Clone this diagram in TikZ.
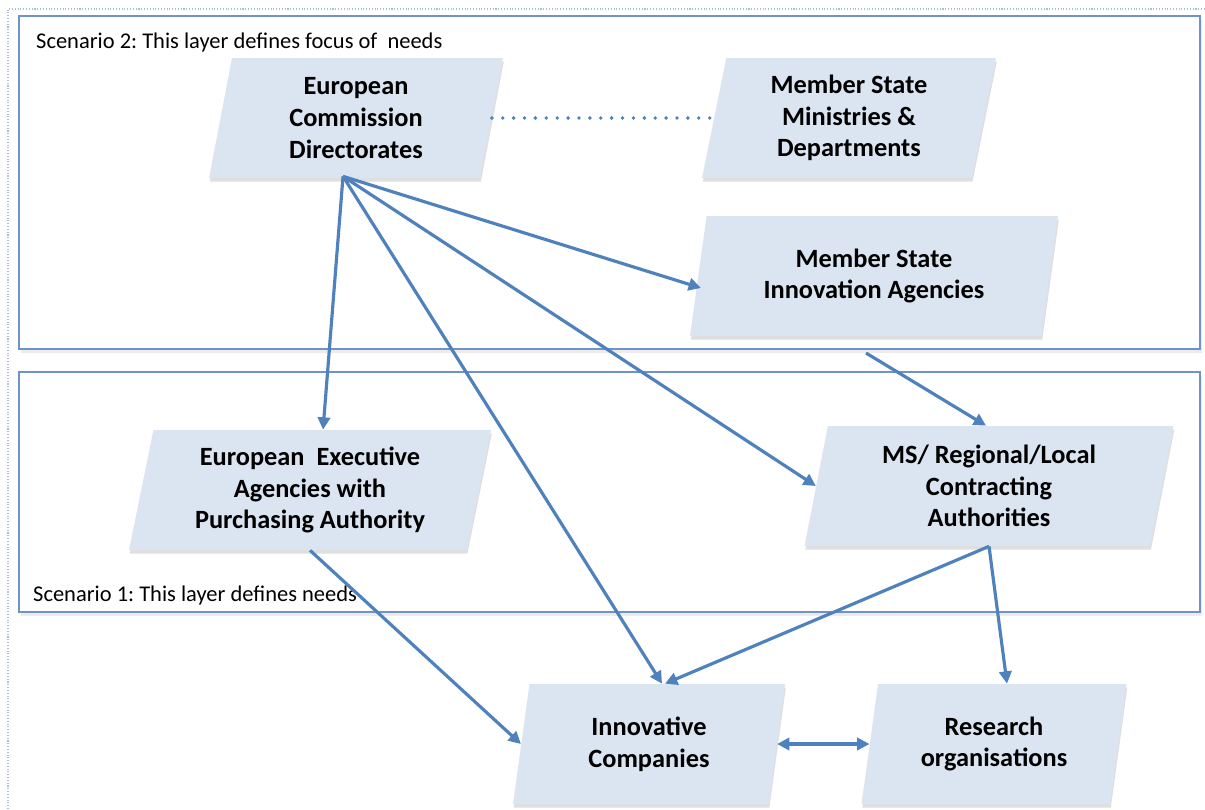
\documentclass[tikz,border=0pt]{standalone}
\usepackage{fontspec}
\setmainfont{Carlito}
\usepackage{tikz}
\usetikzlibrary{positioning, arrows, arrows.meta, shapes.geometric, shadows, calc}
\definecolor{boxfill}{HTML}{DBE5F1}
\definecolor{linkblue}{HTML}{4F81BD}
\definecolor{layerblue}{HTML}{6F93C7}
\frenchspacing

\begin{document}
\begin{tikzpicture}[x=0.02cm, y=-0.02cm,
  agency/.style={trapezium, trapezium left angle=76, trapezium right angle=104,
    trapezium stretches body, fill=boxfill, minimum height=2.4cm, align=center,
    font=\fontsize{15}{18}\selectfont\bfseries,
    drop shadow={shadow xshift=0.5pt, shadow yshift=-2pt, opacity=0.25}},
  link/.style={linkblue, line width=1.8pt, -{Triangle[length=7pt, width=7pt]}},
  layer/.style={layerblue, line width=1.5pt, fill=white,
    drop shadow={shadow xshift=1pt, shadow yshift=-2pt, opacity=0.15}},
  caption/.style={anchor=west, font=\fontsize{12.8}{15}\selectfont}]
\useasboundingbox (0,0) rectangle (1205,809);

% Page frame and the two layers
\draw[layerblue!60, densely dotted, line width=0.6pt] (8,809) -- (8,9) -- (1205,9);
\draw[layer] (19,16) rectangle (1200,349);
\draw[layer] (19,372) rectangle (1200,612);
\node[caption] (focus) at (30,42) {Scenario 2: This layer defines focus of~ needs};
\node[caption] (needs) at (27,595) {Scenario 1: This layer defines needs};

% Layer 2
\node[agency, minimum width=5.88cm] (ECD) at (356,118) {European\\Commission\\Directorates};
\node[agency, minimum width=5.88cm] (MSM) at (849,118) {Member State\\Ministries \&\\Departments};
\node[agency, minimum width=7.36cm] (MSIA) at (874,276) {Member State\\Innovation Agencies};

% Layer 1
\node[agency, minimum width=7.24cm] (EEA) at (310,490) {European\ \ Executive\\Agencies with\\Purchasing Authority};
\node[agency, minimum width=7.38cm] (MSR) at (989,486) {MS/ Regional/Local\\Contracting\\Authorities};

% Suppliers
\node[agency, minimum width=5.44cm] (IC) at (649,744) {Innovative\\Companies};
\node[agency, minimum width=5.3cm] (RO) at (994,744) {Research\\organisations};

% Links
\coordinate (ecdfoot) at ($(ECD.south)+(-13,-2)$);
\coordinate (msiafoot) at (866,353);
\draw[linkblue, line width=2.2pt, line cap=round, dash pattern=on 0pt off 6.2pt]
  (ECD.right side) -- (MSM.left side);
\draw[link] (ecdfoot) -- ($(EEA.north)+(13,0)$);
\draw[link] (ecdfoot) -- ($(IC.north)+(13,0)$);
\draw[link] (ecdfoot) -- (MSR.left side);
\draw[link] (ecdfoot) -- ($(MSIA.left side)+(3,12)$);
\draw[link] (msiafoot) -- ($(MSR.north)+(-3,0)$);
\draw[link] (MSR.south) -- ($(IC.north)+(16,0)$);
\draw[link] (MSR.south) -- ($(RO.north)+(13,0)$);
\draw[link] (EEA.south) -- (IC.left side);
\draw[link, line width=2.4pt, {Triangle[length=7pt, width=7pt]}-{Triangle[length=7pt, width=7pt]}]
  (IC.right side) -- (RO.left side);
\end{tikzpicture}
\end{document}
